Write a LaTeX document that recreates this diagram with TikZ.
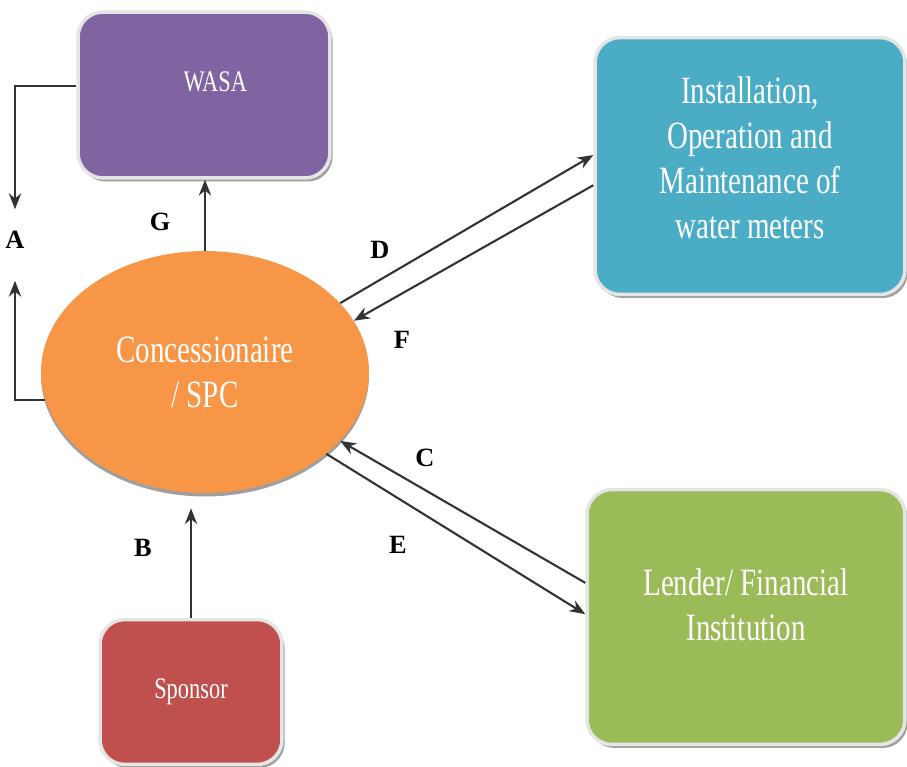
\documentclass[tikz,border=0pt]{standalone}
\usepackage{fontspec}
\setmainfont{Liberation Serif}
\newfontfamily\narrowfont[FakeStretch=0.75]{Liberation Serif}
\usetikzlibrary{shapes.geometric,shadows,arrows.meta}

\definecolor{wasacol}{HTML}{8064A2}
\definecolor{metercol}{HTML}{4BACC6}
\definecolor{spccol}{HTML}{F79646}
\definecolor{lendcol}{HTML}{9BBB59}
\definecolor{sponcol}{HTML}{C0504D}

\begin{document}
\begin{tikzpicture}[x=0.02cm,y=-0.02cm,
   box/.style={rectangle,rounded corners=0.5cm,draw=white!90!black,line width=2pt,
      text=white,align=center,inner sep=0pt,
      drop shadow={shadow xshift=1.5pt,shadow yshift=-2pt,fill=gray!75,opacity=1}},
   bigtext/.style={font=\narrowfont\fontsize{22}{25.6}\selectfont},
   smalltext/.style={font=\narrowfont\fontsize{17}{20}\selectfont},
   lbl/.style={font=\bfseries\fontsize{15}{15}\selectfont,inner sep=1pt},
   arr/.style={draw=black!80,line width=1.2pt,-{Stealth[length=9pt,width=7pt]}}]

\useasboundingbox (0,0) rectangle (907,767);

% parties
\node[box,smalltext,fill=wasacol,minimum width=5.04cm,minimum height=3.32cm,
      text depth=0.52cm] (wasa) at (204,95) {\hspace*{0.45cm}WASA};
\node[box,bigtext,fill=metercol,minimum width=6.2cm,minimum height=5.14cm,
      text depth=0.32cm] (meter) at (750,166)
      {Installation,\\Operation and\\Maintenance of\\water meters};
\node[ellipse,bigtext,fill=spccol,text=white,align=center,inner sep=0pt,
      minimum width=6.56cm,minimum height=4.84cm,
      drop shadow={shadow xshift=0pt,shadow yshift=-2pt,fill=gray!75,opacity=1}]
      (spc) at (205,372) {Concessionaire\\/ SPC};
\node[box,bigtext,fill=lendcol,minimum width=6.36cm,minimum height=5.1cm,
      text depth=0.48cm] (lend) at (746,617) {Lender/ Financial\\Institution};
\node[box,smalltext,fill=sponcol,minimum width=3.64cm,minimum height=2.9cm]
      (spon) at (191,692) {Sponsor};

% letters on the flows
\node[lbl] (A) at (15,240) {A};
\node[lbl] (B) at (143,548) {B};
\node[lbl] (C) at (425,458) {C};
\node[lbl] (D) at (380,250) {D};
\node[lbl] (E) at (398,545) {E};
\node[lbl] (F) at (402,340) {F};
\node[lbl] (G) at (160,222) {G};

% flows
\draw[arr,shorten >=0.4cm] (wasa.176) -| (A.north);
\draw[arr,shorten >=0.6cm] (spc.190) -| (A.south);
\draw[arr] (spc.north) -- (spc.north |- wasa.south);
\draw[arr,shorten >=0.3cm] (spon.north) -- (spon.north |- spc.south);
\draw[arr] (spc.27) -- (meter.176);
\draw[arr] (meter.187) -- (spc.19);
\draw[arr] (lend.168) -- (spc.-27);
\draw[arr] (spc.-34) -- (lend.179);

\end{tikzpicture}
\end{document}
